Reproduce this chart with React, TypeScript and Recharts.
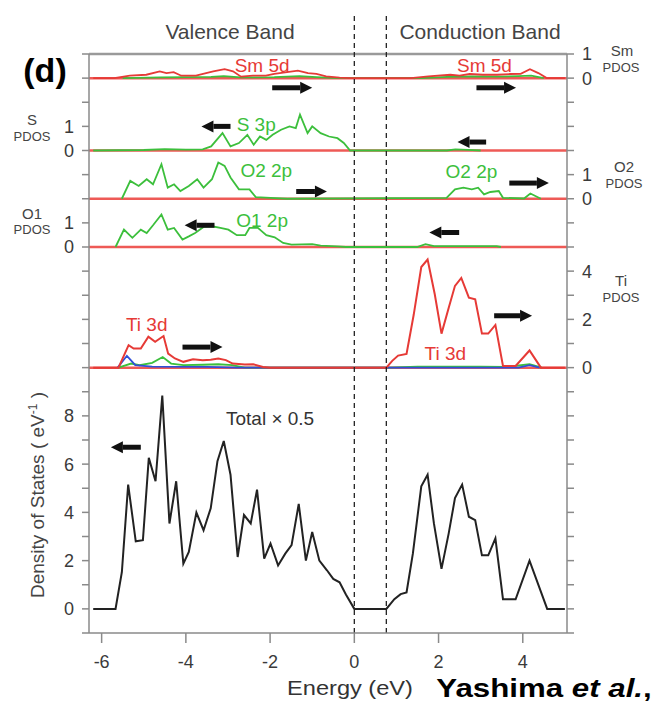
import React from "react";
import {
  ComposedChart,
  Line,
  XAxis,
  YAxis,
  ReferenceLine,
  ReferenceDot,
} from "recharts";

// Energy (eV) vs density of states, pairs of [energy, value]
// Each PDOS panel is stacked on one shared axis with a vertical offset.
const totalDos: [number, number][] = [
  [-6.2, 0], [-5.67, 0], [-5.52, 1.52], [-5.37, 5.15], [-5.19, 2.8], [-5.02, 2.85],
  [-4.88, 6.26], [-4.72, 5.29], [-4.56, 8.84], [-4.39, 3.54], [-4.23, 5.29], [-4.06, 1.87],
  [-3.93, 2.36], [-3.75, 3.99], [-3.58, 3.26], [-3.41, 4.17], [-3.25, 6.12], [-3.1, 6.96],
  [-2.94, 5.56], [-2.77, 2.15], [-2.62, 3.89], [-2.46, 3.54], [-2.31, 4.94], [-2.14, 2.08],
  [-1.99, 2.71], [-1.81, 1.8], [-1.64, 2.29], [-1.49, 2.64], [-1.32, 4.35], [-1.15, 2.0],
  [-1.0, 3.19], [-0.83, 2.0], [-0.65, 1.6], [-0.5, 1.24], [-0.35, 1.1], [-0.2, 0.6],
  [0, 0], [0.76, 0], [0.95, 0.4], [1.1, 0.61], [1.24, 0.68], [1.39, 2.29], [1.59, 5.08],
  [1.74, 5.56], [1.89, 3.54], [2.07, 1.66], [2.24, 3.12], [2.39, 4.59], [2.56, 5.15],
  [2.72, 3.82], [2.87, 3.68], [3.03, 2.22], [3.18, 2.22], [3.35, 2.92], [3.53, 0.4],
  [3.83, 0.4], [4.16, 2.0], [4.58, 0], [5.0, 0],
];

const tiRed: [number, number][] = [
  [-6.2, 0], [-5.6, 0], [-5.36, 0.93], [-5.24, 0.79], [-5.07, 0.79], [-4.89, 1.28],
  [-4.73, 1.07], [-4.53, 1.31], [-4.42, 0.58], [-4.26, 0.38], [-4.06, 0.24], [-3.83, 0.35],
  [-3.6, 0.31], [-3.41, 0.33], [-3.23, 0.38], [-3.05, 0.31], [-2.89, 0.17], [-2.6, 0.13],
  [-2.4, 0.14], [-2.17, 0.03], [-2.0, 0], [0.76, 0], [0.9, 0.28], [1.04, 0.5], [1.24, 0.57],
  [1.41, 2.19], [1.59, 4.17], [1.74, 4.48], [1.91, 3.04], [2.07, 1.41], [2.24, 2.47],
  [2.39, 3.39], [2.54, 3.72], [2.72, 2.9], [2.87, 2.83], [3.03, 1.41], [3.18, 1.41],
  [3.35, 1.77], [3.53, 0.07], [3.83, 0.07], [4.16, 0.71], [4.43, 0], [5.0, 0],
];
const tiGreen: [number, number][] = [
  [-5.6, 0], [-5.3, 0.17], [-5.1, 0.1], [-4.8, 0.2], [-4.55, 0.44], [-4.35, 0.17],
  [-4.06, 0.1], [-3.6, 0.12], [-3.23, 0.14], [-2.9, 0.1], [-2.6, 0],
  [0.8, 0], [1.5, 0.04], [3.0, 0.04], [3.6, 0.03], [4.16, 0.14], [4.45, 0],
];
const tiBlue: [number, number][] = [
  [-5.62, 0], [-5.4, 0.49], [-5.2, 0.1], [-4.8, 0.04], [-3.5, 0.03], [-2.8, 0],
  [3.9, 0], [4.16, 0.1], [4.4, 0],
];

const o1Green: [number, number][] = [
  [-5.67, 0], [-5.47, 0.72], [-5.27, 0.38], [-5.07, 0.72], [-4.93, 0.58], [-4.78, 0.9],
  [-4.58, 1.35], [-4.43, 0.72], [-4.28, 0.79], [-4.08, 0.31], [-3.93, 0.44], [-3.78, 0.58],
  [-3.58, 0.83], [-3.38, 0.86], [-3.18, 0.79], [-2.99, 0.72], [-2.79, 0.49], [-2.59, 0.49],
  [-2.49, 0.79], [-2.29, 0.79], [-2.09, 0.49], [-1.89, 0.4], [-1.69, 0.17], [-1.49, 0.1],
  [-1.0, 0.12], [-0.8, 0.06], [-0.4, 0.03], [-0.2, 0],
  [1.49, 0], [1.69, 0.12], [1.89, 0.04], [2.59, 0.04], [3.38, 0.04], [3.48, 0],
];

const o2Green: [number, number][] = [
  [-5.52, 0], [-5.32, 0.74], [-5.12, 0.53], [-4.93, 0.81], [-4.78, 0.6], [-4.58, 1.43],
  [-4.43, 0.46], [-4.28, 0.6], [-4.13, 0.32], [-3.93, 0.53], [-3.73, 0.81], [-3.58, 0.46],
  [-3.38, 0.81], [-3.23, 1.5], [-3.08, 1.36], [-2.94, 0.88], [-2.74, 0.39], [-2.49, 0.39],
  [-2.34, 0.07], [-1.99, 0.04], [-1.59, 0],
  [2.19, 0.04], [2.39, 0.39], [2.59, 0.46], [2.79, 0.39], [2.94, 0.46], [3.08, 0.18],
  [3.23, 0.28], [3.43, 0.32], [3.53, 0.04], [4.03, 0.01], [4.18, 0.22], [4.43, 0],
];

const sGreen: [number, number][] = [
  [-6.2, 0], [-5.0, 0.02], [-4.5, 0.06], [-4.0, 0.04], [-3.6, 0.05], [-3.4, 0.17],
  [-3.13, 0.72], [-2.94, 0.17], [-2.74, 0.31], [-2.54, 0.65], [-2.39, 0.24], [-2.24, 0.58],
  [-2.09, 0.44], [-1.94, 0.65], [-1.74, 0.86], [-1.54, 1.0], [-1.39, 0.93], [-1.29, 1.49],
  [-1.11, 0.72], [-1.0, 1.0], [-0.8, 0.72], [-0.6, 0.58], [-0.4, 0.51], [-0.25, 0.31],
  [-0.1, 0], [2.2, 0], [2.4, 0.05], [2.7, 0.03], [3.0, 0],
];

const smRed: [number, number][] = [
  [-6.2, 0], [-5.7, 0], [-5.33, 0.1], [-4.94, 0.14], [-4.62, 0.28], [-4.46, 0.21],
  [-4.29, 0.25], [-4.11, 0.1], [-3.76, 0.1], [-3.35, 0.28], [-3.08, 0.37], [-2.88, 0.28],
  [-2.69, 0.06], [-2.41, 0.1], [-2.1, 0.1], [-1.9, 0.18], [-1.34, 0.31], [-1.1, 0.21],
  [-0.9, 0.18], [-0.67, 0.07], [-0.35, 0.02], [-0.1, 0], [1.34, 0], [1.76, 0.07],
  [2.28, 0.14], [2.5, 0.1], [2.74, 0.17], [3.05, 0.14], [3.39, 0.14], [3.7, 0.17],
  [3.95, 0.18], [4.17, 0.37], [4.37, 0.21], [4.57, 0], [5.0, 0],
];
const smGreen: [number, number][] = [
  [-5.5, 0], [-4.6, 0.03], [-3.4, 0.05], [-3.1, 0.08], [-2.7, 0.03], [-1.9, 0.04],
  [-1.3, 0.08], [-0.9, 0.04], [-0.4, 0],
  [1.6, 0], [2.2, 0.05], [2.8, 0.07], [3.4, 0.06], [3.9, 0.08], [4.2, 0.1], [4.5, 0],
];

// vertical offsets of each panel on the shared axis
const OFFSET = { total: 0, ti: 10, o1: 15, o2: 17, s: 19, sm: 22 };

const energyTicks = [-6, -4, -2, 0, 2, 4];
const yTicks = [
  -1, 0, 1, 2, 3, 4, 5, 6, 7, 8, 9, 10, 11, 12, 13, 14, 15, 16, 17, 18, 19, 20, 21, 22, 23,
];
const leftTickLabels: [number, string][] = [
  [0, "0"], [2, "2"], [4, "4"], [6, "6"], [8, "8"], [15, "0"], [16, "1"], [19, "0"], [20, "1"],
];
const rightTickLabels: [number, string][] = [
  [10, "0"], [12, "2"], [14, "4"], [17, "0"], [18, "1"], [22, "0"], [23, "1"],
];

// band edges (eV)
const bandEdges = [0, 0.76];

// annotation arrows: [from eV, to eV, level]
const arrows: [number, number, number][] = [
  [-1.95, -1.0, 21.6], [2.9, 3.84, 21.6],
  [-2.94, -3.63, 20.0], [3.13, 2.45, 19.35],
  [-1.38, -0.65, 17.3], [3.68, 4.62, 17.65],
  [-3.32, -4.03, 15.9], [2.49, 1.78, 15.6],
  [-4.08, -3.13, 10.85], [3.32, 4.22, 12.15],
  [-5.07, -5.78, 6.7],
];

const RED = "#e63a36";
const GREEN = "#3cbf3c";
const BLUE = "#2f4fd8";
const AXIS = "#8a8a8a";

// curve labels: [text, eV, level, colour]
const curveLabels: [string, number, number, string][] = [
  ["Sm 5d", -2.19, 22.55, RED],
  ["Sm 5d", 3.09, 22.55, RED],
  ["S 3p", -2.33, 20.1, GREEN],
  ["O2 2p", -2.09, 18.2, GREEN],
  ["O2 2p", 2.78, 18.15, GREEN],
  ["O1 2p", -2.19, 16.1, GREEN],
  ["Ti 3d", -4.93, 11.8, RED],
  ["Ti 3d", 2.16, 10.6, RED],
  ["Total × 0.5", -2.0, 7.9, "#333"],
];

const toRows = (pairs: [number, number][], off: number) =>
  pairs.map(([e, v]) => ({ e, v: v + off }));

const labelFrom = (table: [number, string][]) => (value: number) => {
  const hit = table.find(([t]) => t === value);
  return hit ? hit[1] : "";
};

function ArrowShape(props: any) {
  const { x1, y1, x2 } = props;
  if (x1 == null || x2 == null) return null;
  const dir = x2 > x1 ? 1 : -1;
  const head = 12;
  const hx = x2 - dir * head;
  return (
    <g>
      <line x1={x1} y1={y1} x2={hx} y2={y1} stroke="#111" strokeWidth={5} />
      <polygon points={`${x2},${y1} ${hx},${y1 - 6} ${hx},${y1 + 6}`} fill="#111" />
    </g>
  );
}

function Note({
  x,
  y,
  children,
  style,
  stretch = 1,
  rotate = 0,
}: {
  x: number;
  y: number;
  children: React.ReactNode;
  style?: React.CSSProperties;
  stretch?: number;
  rotate?: number;
}) {
  return (
    <div
      style={{
        position: "absolute",
        left: x,
        top: y,
        transform: `translate(-50%, -50%) rotate(${rotate}deg) scaleX(${stretch})`,
        whiteSpace: "nowrap",
        lineHeight: 1,
        ...style,
      }}
    >
      {children}
    </div>
  );
}

export default function App() {
  // panels labelled on the right side use the right axis (same domain)
  const series = [
    { key: "tiGreen", rows: toRows(tiGreen, OFFSET.ti), color: GREEN, w: 1.8, axis: "right" },
    { key: "tiBlue", rows: toRows(tiBlue, OFFSET.ti), color: BLUE, w: 1.8, axis: "right" },
    { key: "tiRed", rows: toRows(tiRed, OFFSET.ti), color: RED, w: 2, axis: "right" },
    { key: "o1Green", rows: toRows(o1Green, OFFSET.o1), color: GREEN, w: 1.8, axis: "left" },
    { key: "o2Green", rows: toRows(o2Green, OFFSET.o2), color: GREEN, w: 1.8, axis: "right" },
    { key: "sGreen", rows: toRows(sGreen, OFFSET.s), color: GREEN, w: 1.8, axis: "left" },
    { key: "smGreen", rows: toRows(smGreen, OFFSET.sm), color: GREEN, w: 1.8, axis: "right" },
    { key: "smRed", rows: toRows(smRed, OFFSET.sm), color: RED, w: 1.8, axis: "right" },
    { key: "total", rows: toRows(totalDos, OFFSET.total), color: "#222", w: 2, axis: "left" },
  ];

  const tickStyle = { fontSize: 18, fill: "#3a3a3a" };

  return (
    <div
      style={{
        position: "absolute",
        left: 0,
        top: 0,
        width: 660,
        height: 702,
        background: "#fff",
        fontFamily: "'Liberation Sans', Arial, sans-serif",
      }}
    >
      <ComposedChart
        width={660}
        height={702}
        margin={{ top: 54, right: 0, bottom: 39, left: 0 }}
      >
        <XAxis
          type="number"
          dataKey="e"
          domain={[-6.3, 5.05]}
          ticks={energyTicks}
          allowDuplicatedCategory={false}
          stroke={AXIS}
          strokeWidth={1.5}
          tickSize={10}
          tickMargin={12}
          tick={tickStyle}
          height={30}
        />
        <YAxis
          yAxisId="left"
          type="number"
          domain={[-1, 23]}
          ticks={yTicks}
          interval={0}
          width={89}
          stroke={AXIS}
          strokeWidth={1.5}
          tickSize={7}
          tickMargin={8}
          tick={tickStyle}
          tickFormatter={labelFrom(leftTickLabels)}
        />
        <YAxis
          yAxisId="right"
          orientation="right"
          type="number"
          domain={[-1, 23]}
          ticks={yTicks}
          interval={0}
          width={93}
          stroke={AXIS}
          strokeWidth={1.5}
          tickSize={7}
          tickMargin={8}
          tick={tickStyle}
          tickFormatter={labelFrom(rightTickLabels)}
        />

        {/* frame top */}
        <ReferenceLine yAxisId="left" y={23} stroke="#9a9a9a" strokeWidth={2.5} />

        {/* zero lines of the PDOS panels */}
        {[OFFSET.ti, OFFSET.o1, OFFSET.o2, OFFSET.s, OFFSET.sm].map((off) => (
          <ReferenceLine
            key={`base-${off}`}
            yAxisId="left"
            y={off}
            stroke="#ee5a56"
            strokeWidth={2.5}
          />
        ))}

        {series.map((s) => (
          <Line
            key={s.key}
            yAxisId={s.axis}
            data={s.rows}
            dataKey="v"
            type="linear"
            stroke={s.color}
            strokeWidth={s.w}
            dot={false}
            activeDot={false}
            isAnimationActive={false}
          />
        ))}

        {/* valence / conduction band edges */}
        {bandEdges.map((x) => (
          <ReferenceLine
            key={`edge-${x}`}
            yAxisId="left"
            segment={[
              { x, y: -1 },
              { x, y: 24.6 },
            ]}
            ifOverflow="visible"
            stroke="#222"
            strokeWidth={1.3}
            strokeDasharray="5 4"
          />
        ))}

        {arrows.map(([from, to, lvl], i) => (
          <ReferenceLine
            key={`arrow-${i}`}
            yAxisId="left"
            segment={[
              { x: from, y: lvl },
              { x: to, y: lvl },
            ]}
            shape={ArrowShape}
          />
        ))}

        {curveLabels.map(([text, x, y, color], i) => (
          <ReferenceDot
            key={`lbl-${i}`}
            yAxisId="left"
            x={x}
            y={y}
            r={0}
            fill="none"
            stroke="none"
            label={{ value: text, position: "center", fill: color, fontSize: 19 }}
          />
        ))}
      </ComposedChart>

      <Note x={230} y={31} style={{ fontSize: 21, color: "#444" }}>
        Valence Band
      </Note>
      <Note x={480} y={31} style={{ fontSize: 21, color: "#444" }}>
        Conduction Band
      </Note>
      <Note x={45} y={70} style={{ fontSize: 34, fontWeight: "bold", color: "#000" }}>
        (d)
      </Note>

      <Note x={622} y={50} style={{ fontSize: 15, color: "#444" }}>
        Sm
      </Note>
      <Note x={621} y={67} style={{ fontSize: 13, color: "#444" }}>
        PDOS
      </Note>
      <Note x={32} y={119} style={{ fontSize: 15, color: "#444" }}>
        S
      </Note>
      <Note x={32} y={136} style={{ fontSize: 13, color: "#444" }}>
        PDOS
      </Note>
      <Note x={624} y={166} style={{ fontSize: 15, color: "#444" }}>
        O2
      </Note>
      <Note x={624} y={183} style={{ fontSize: 13, color: "#444" }}>
        PDOS
      </Note>
      <Note x={32} y={213} style={{ fontSize: 15, color: "#444" }}>
        O1
      </Note>
      <Note x={32} y={229} style={{ fontSize: 13, color: "#444" }}>
        PDOS
      </Note>
      <Note x={621} y={280} style={{ fontSize: 15, color: "#444" }}>
        Ti
      </Note>
      <Note x={621} y={297} style={{ fontSize: 13, color: "#444" }}>
        PDOS
      </Note>

      <Note x={37} y={495} rotate={-90} style={{ fontSize: 19, color: "#444" }}>
        Density of States ( eV
        <span style={{ fontSize: 12, verticalAlign: "0.6em" }}>-1</span> )
      </Note>
      <Note x={350} y={688} stretch={1.18} style={{ fontSize: 20, color: "#333" }}>
        Energy (eV)
      </Note>
      <Note x={544} y={688} stretch={1.25} style={{ fontSize: 25, fontWeight: "bold", color: "#000" }}>
        Yashima <i>et al.</i>,
      </Note>
    </div>
  );
}
